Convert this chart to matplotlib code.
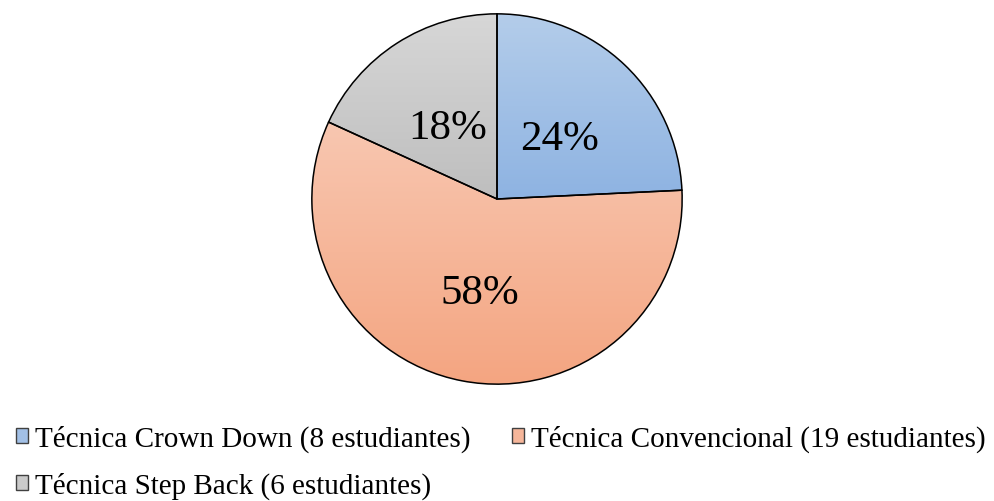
import matplotlib
matplotlib.use("Agg")
import matplotlib.pyplot as plt
import matplotlib.transforms as mtransforms
import numpy as np
from matplotlib.colors import LinearSegmentedColormap
from matplotlib.patches import Rectangle

plt.rcParams['font.family'] = ['Liberation Serif', 'DejaVu Serif']

# data
labels = ['Técnica Crown Down (8 estudiantes)',
          'Técnica Convencional (19 estudiantes)',
          'Técnica Step Back (6 estudiantes)']
students = [8, 19, 6]
# gradient colours, top -> bottom
grad_top = ['#b4cdea', '#f8c7b1', '#d7d7d7']
grad_bot = ['#8eb3e2', '#f4a581', '#bebebe']
mid_cols = ['#a2c0e6', '#f6b69a', '#cacaca']

fig = plt.figure(figsize=(9.94, 5.02), dpi=100)
W, H = 994, 502
# pie centre (497, 200) px, radius 187 px
ax = fig.add_axes([(497 - 187) / W, (H - 200 - 187) / H, 374 / W, 374 / H])

wedges, texts, autotexts = ax.pie(
    students, startangle=90, counterclock=False, radius=1,
    autopct=lambda p: f'{p:.0f}%', pctdistance=0.49,
    wedgeprops=dict(edgecolor='black', linewidth=1.1, facecolor='none'),
    textprops=dict(fontsize=31, color='black'))

for w, c0, c1 in zip(wedges, grad_top, grad_bot):
    w.set_zorder(3)
    bb = w.get_path().get_extents()
    cmap = LinearSegmentedColormap.from_list('g', [c0, c1])
    grad = np.linspace(0, 1, 256).reshape(-1, 1)
    im = ax.imshow(grad, cmap=cmap, extent=[bb.x0, bb.x1, bb.y0, bb.y1],
                   origin='upper', aspect='auto', zorder=1, interpolation='bilinear')
    im.set_clip_path(w)

shift = mtransforms.offset_copy(ax.transData, fig=fig, x=0, y=-5, units='dots')
for t in autotexts:
    t.set_zorder(5)
    t.set_transform(shift)

ax.set_xlim(-1.01, 1.01)
ax.set_ylim(-1.01, 1.01)
ax.set_aspect('equal')
ax.axis('off')

handles = [Rectangle((0, 0), 1, 1, facecolor=c, edgecolor='#404040', linewidth=1.0)
           for c in mid_cols]
order = [0, 2, 1]
fig.legend([handles[i] for i in order], [labels[i] for i in order],
           loc='upper left', bbox_to_anchor=(0.016, 1 - 426 / H), ncol=2,
           frameon=False, fontsize=21, handlelength=0.42, handleheight=0.42,
           handletextpad=0.25, columnspacing=1.4, labelspacing=0.68,
           borderaxespad=0, borderpad=0)

fig.savefig('out.png', dpi=100)
